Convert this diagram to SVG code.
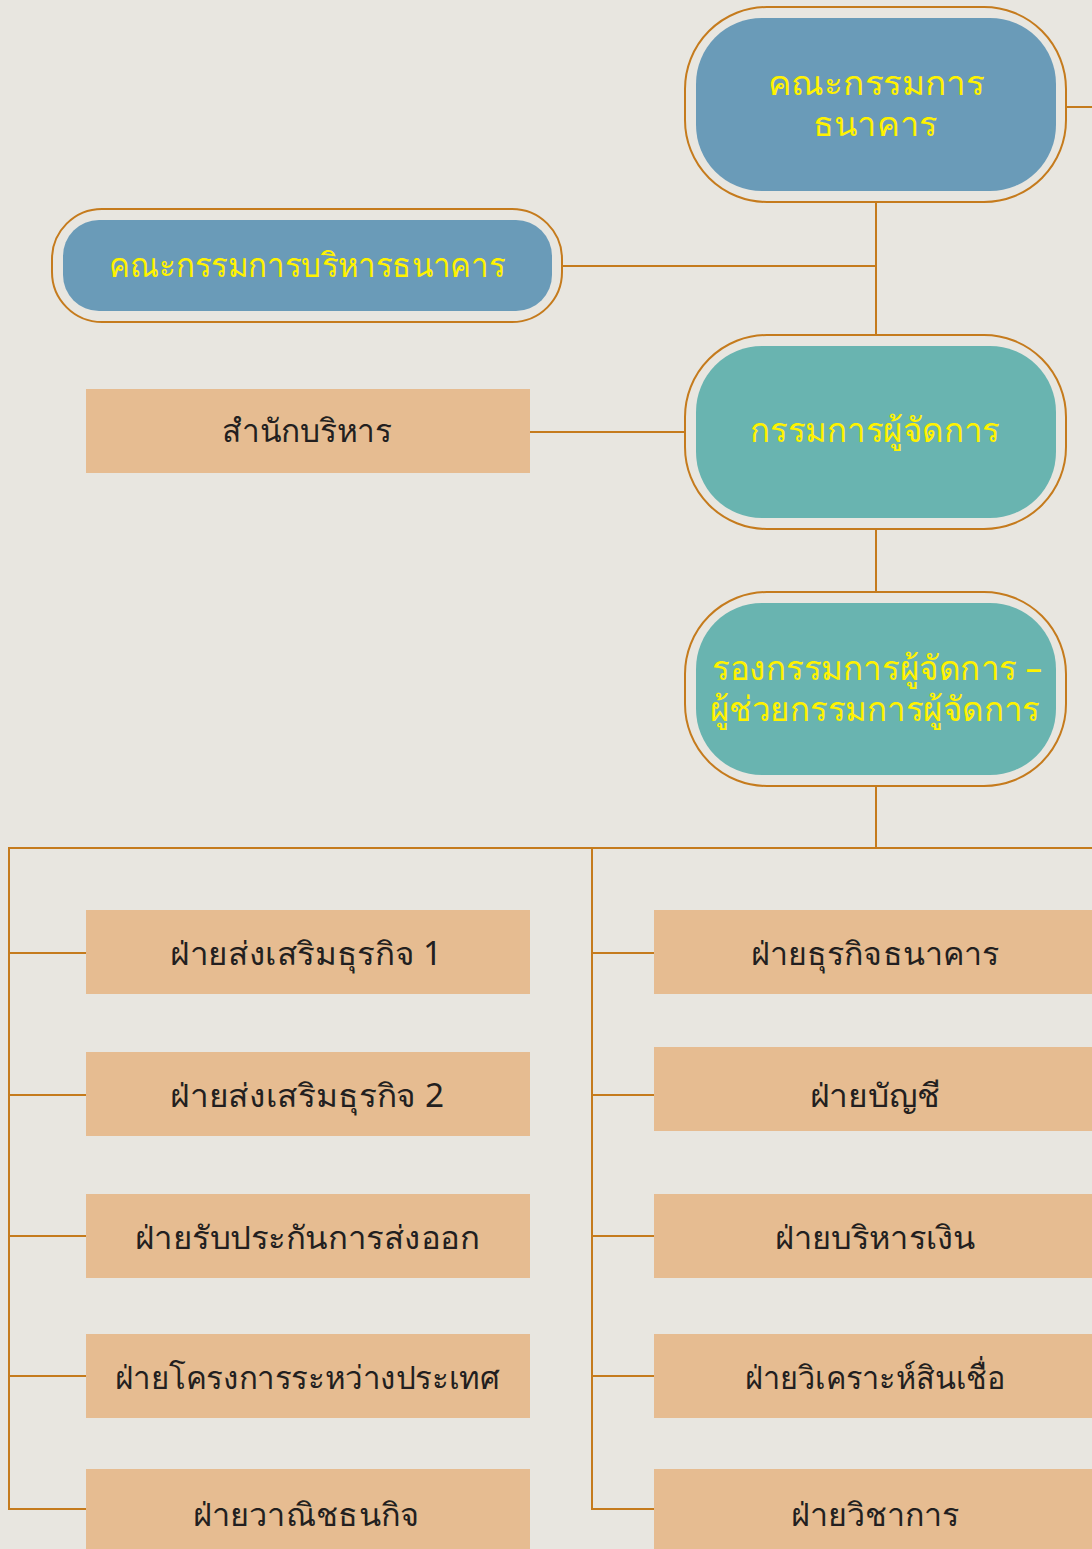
<svg xmlns="http://www.w3.org/2000/svg" width="1092" height="1549" viewBox="0 0 1092 1549">
<style>
.bg{fill:#E8E6E0}
.ring{fill:none;stroke:#C57B1D;stroke-width:2}
.blue{fill:#6A9BB8}
.teal{fill:#69B4B0}
.box{fill:#E6BC91}
.ln{stroke:#C57B1D;stroke-width:2;fill:none}
.yt{fill:#FFF200;font-family:"Noto Sans","DejaVu Sans",sans-serif;font-size:34px;text-anchor:middle}
.dt{fill:#231F20;font-family:"Noto Sans","DejaVu Sans",sans-serif;font-size:32px;text-anchor:middle}
</style>
<rect class="bg" x="0" y="0" width="1092" height="1549"/>
<g id="connectors">
<path class="ln" d="M1066 107H1092"/>
<path class="ln" d="M876 202V335"/>
<path class="ln" d="M562 266H876"/>
<path class="ln" d="M530 432H685"/>
<path class="ln" d="M876 529V592"/>
<path class="ln" d="M876 786V848"/>
<path class="ln" d="M1092 848H9V1509H86"/>
<path class="ln" d="M592 848V1509H654"/>
<path class="ln" d="M9 953H86M9 1095H86M9 1236H86M9 1376H86"/>
<path class="ln" d="M592 953H654M592 1095H654M592 1236H654M592 1376H654"/>
</g>
<g id="board">
<rect class="ring" x="685" y="7" width="381" height="195" rx="82" ry="82"/>
<rect class="blue" x="696" y="18" width="360" height="173" rx="66" ry="66"/>
<text class="yt" x="876" y="95" textLength="217" lengthAdjust="spacingAndGlyphs">คณะกรรมการ</text>
<text class="yt" x="875" y="136" textLength="124" lengthAdjust="spacingAndGlyphs">ธนาคาร</text>
</g>
<g id="exec-committee">
<rect class="ring" x="52" y="209" width="510" height="113" rx="50" ry="50"/>
<rect class="blue" x="63" y="220" width="489" height="91" rx="36" ry="36"/>
<text class="yt" x="307" y="277" textLength="397" lengthAdjust="spacingAndGlyphs">คณะกรรมการบริหารธนาคาร</text>
</g>
<g id="md">
<rect class="ring" x="685" y="335" width="381" height="194" rx="82" ry="82"/>
<rect class="teal" x="696" y="346" width="360" height="172" rx="66" ry="66"/>
<text class="yt" x="875" y="442" textLength="250" lengthAdjust="spacingAndGlyphs">กรรมการผู้จัดการ</text>
</g>
<g id="executive-office">
<rect class="box" x="86" y="389" width="444" height="84"/>
<text class="dt" x="307" y="442" textLength="170" lengthAdjust="spacingAndGlyphs">สำนักบริหาร</text>
</g>
<g id="deputy">
<rect class="ring" x="685" y="592" width="381" height="194" rx="82" ry="82"/>
<rect class="teal" x="696" y="603" width="360" height="172" rx="66" ry="66"/>
<text class="yt" x="877" y="680" textLength="330" lengthAdjust="spacingAndGlyphs">รองกรรมการผู้จัดการ –</text>
<text class="yt" x="875" y="721" textLength="330" lengthAdjust="spacingAndGlyphs">ผู้ช่วยกรรมการผู้จัดการ</text>
</g>
<g id="l1"><rect class="box" x="86" y="910" width="444" height="84"/><text class="dt" x="306" y="965" textLength="272" lengthAdjust="spacingAndGlyphs">ฝ่ายส่งเสริมธุรกิจ 1</text></g>
<g id="l2"><rect class="box" x="86" y="1052" width="444" height="84"/><text class="dt" x="307" y="1107" textLength="274" lengthAdjust="spacingAndGlyphs">ฝ่ายส่งเสริมธุรกิจ 2</text></g>
<g id="l3"><rect class="box" x="86" y="1194" width="444" height="84"/><text class="dt" x="307" y="1249" textLength="345" lengthAdjust="spacingAndGlyphs">ฝ่ายรับประกันการส่งออก</text></g>
<g id="l4"><rect class="box" x="86" y="1334" width="444" height="84"/><text class="dt" x="307" y="1389" textLength="385" lengthAdjust="spacingAndGlyphs">ฝ่ายโครงการระหว่างประเทศ</text></g>
<g id="l5"><rect class="box" x="86" y="1469" width="444" height="90"/><text class="dt" x="306" y="1526" textLength="227" lengthAdjust="spacingAndGlyphs">ฝ่ายวาณิชธนกิจ</text></g>
<g id="r1"><rect class="box" x="654" y="910" width="450" height="84"/><text class="dt" x="875" y="965" textLength="248" lengthAdjust="spacingAndGlyphs">ฝ่ายธุรกิจธนาคาร</text></g>
<g id="r2"><rect class="box" x="654" y="1047" width="450" height="84"/><text class="dt" x="875" y="1107" textLength="131" lengthAdjust="spacingAndGlyphs">ฝ่ายบัญชี</text></g>
<g id="r3"><rect class="box" x="654" y="1194" width="450" height="84"/><text class="dt" x="875" y="1249" textLength="201" lengthAdjust="spacingAndGlyphs">ฝ่ายบริหารเงิน</text></g>
<g id="r4"><rect class="box" x="654" y="1334" width="450" height="84"/><text class="dt" x="875" y="1389" textLength="261" lengthAdjust="spacingAndGlyphs">ฝ่ายวิเคราะห์สินเชื่อ</text></g>
<g id="r5"><rect class="box" x="654" y="1469" width="450" height="90"/><text class="dt" x="875" y="1526" textLength="169" lengthAdjust="spacingAndGlyphs">ฝ่ายวิชาการ</text></g>
</svg>
